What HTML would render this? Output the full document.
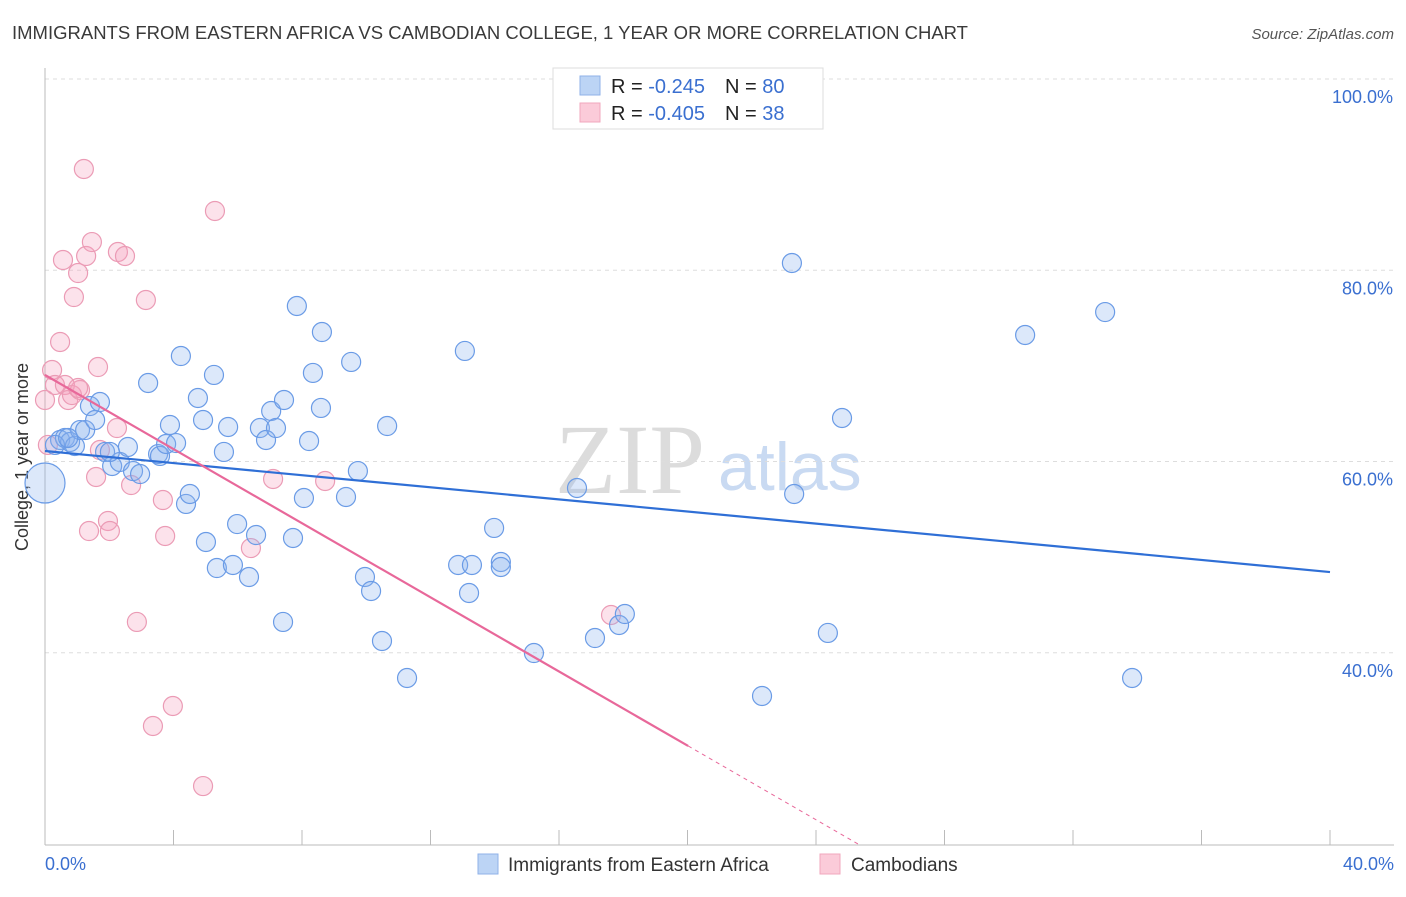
<!DOCTYPE html>
<html><head><meta charset="utf-8"><style>
body{margin:0;background:#fff;}
svg text{font-family:"Liberation Sans",sans-serif;}
</style></head><body>
<svg id="chart" width="1406" height="892" viewBox="0 0 1406 892" xmlns="http://www.w3.org/2000/svg">
<text x="12" y="39" font-size="18.5" fill="#3a3a3a">IMMIGRANTS FROM EASTERN AFRICA VS CAMBODIAN COLLEGE, 1 YEAR OR MORE CORRELATION CHART</text>
<text x="1394" y="39" font-size="15" fill="#555" text-anchor="end" font-style="italic">Source: ZipAtlas.com</text>
<g>
<text x="555" y="493" font-size="100" fill="#dcdcdc" style="font-family:'Liberation Serif',serif">ZIP</text>
<text x="718" y="490" font-size="68" fill="#c9daf2">atlas</text>
</g>
<g id="grid"></g>
<line x1="45" y1="68" x2="45" y2="845" stroke="#bbb" stroke-width="1"/>
<line x1="45" y1="845" x2="1394" y2="845" stroke="#bbb" stroke-width="1"/>
<text transform="translate(28,457) rotate(-90)" font-size="18" fill="#333" text-anchor="middle">College, 1 year or more</text>
<text x="45" y="870" font-size="18" fill="#3a6fd0">0.0%</text>
<text x="1394" y="870" font-size="18" fill="#3a6fd0" text-anchor="end">40.0%</text>
<g id="marks"></g>
<g>
<rect x="553" y="68" width="270" height="61" fill="#fff" stroke="#ddd"/>
<rect x="580" y="76" width="20" height="19" fill="#bcd4f5" stroke="#8fb2e8"/>
<rect x="580" y="103" width="20" height="19" fill="#fbcbd9" stroke="#f0a7bd"/>
<text x="611" y="93" font-size="20" fill="#222">R = <tspan fill="#3a6fd0">-0.245</tspan><tspan dx="20">N = </tspan><tspan fill="#3a6fd0">80</tspan></text>
<text x="611" y="120" font-size="20" fill="#222">R = <tspan fill="#3a6fd0">-0.405</tspan><tspan dx="20">N = </tspan><tspan fill="#3a6fd0"> 38</tspan></text>
</g>
<g>
<rect x="478" y="854" width="20" height="20" fill="#bcd4f5" stroke="#8fb2e8"/>
<text x="508" y="871" font-size="19" fill="#333">Immigrants from Eastern Africa</text>
</g>
<g>
<rect x="820" y="854" width="20" height="20" fill="#fbcbd9" stroke="#f0a7bd"/>
<text x="851" y="871" font-size="19" fill="#333">Cambodians</text>
</g>
</svg>
<script>
const yTicks=[100,80,60,40];
const yTickLabels=["100.0%","80.0%","60.0%","40.0%"];
const xTicks=[0,4,8,12,16,20,24,28,32,36,40];
const blueX=[0,0.47,0.62,0.78,0.93,1.09,1.25,1.40,1.56,1.71,1.87,2.09,2.33,2.58,2.74,2.96,3.21,3.52,3.58,3.77,3.89,4.08,4.23,4.39,4.51,4.76,4.92,5.01,5.26,5.35,5.57,5.70,5.85,5.98,6.35,6.57,6.69,6.88,7.04,7.19,7.44,7.41,7.72,7.84,8.06,8.22,8.34,8.59,8.62,9.37,9.53,9.74,9.96,10.15,10.49,10.65,11.27,12.86,13.07,13.20,13.29,13.98,14.19,14.19,15.22,16.56,17.12,17.87,18.05,22.32,23.25,23.32,24.37,24.81,30.51,33.0,33.84,0.31,0.72,2.02];
const blueY=[57.75,62.25,62.46,62.04,61.62,63.29,63.29,65.8,64.34,66.22,61.0,59.53,59.95,61.52,59.0,58.69,68.21,60.78,60.58,61.83,63.82,61.93,71.03,55.56,56.6,66.64,64.34,51.58,69.05,48.86,61.0,63.61,49.18,53.46,47.92,52.31,63.5,62.25,65.28,63.5,66.43,43.22,52.0,76.26,56.18,62.14,69.26,65.6,73.54,56.29,70.41,59.0,47.92,46.46,41.23,63.71,37.36,49.18,71.56,46.25,49.18,53.05,49.49,48.97,39.97,57.23,41.54,42.9,44.05,35.48,80.76,56.6,42.07,64.55,73.23,75.63,37.36,61.73,62.46,61.0];
const pinkX=[0,0.09,0.22,0.31,0.47,0.56,0.62,0.72,0.84,0.90,1.03,1.09,1.21,1.28,1.46,1.59,1.65,1.71,1.96,2.02,1.37,2.24,2.27,2.49,2.68,2.86,3.14,3.36,3.67,3.74,3.98,4.92,5.29,6.41,7.10,8.72,17.62,1.03];
const pinkY=[66.43,61.73,69.57,68.0,72.5,81.07,68.0,66.43,66.95,77.2,79.71,67.48,90.59,81.49,82.95,58.38,69.88,61.2,53.78,52.73,52.73,63.5,81.91,81.49,57.54,43.22,76.89,32.34,55.97,52.21,34.43,26.06,86.2,50.95,58.17,57.96,43.95,67.69];
const blueTrend=[61.1,48.44];
const pinkTrend=[69.05,-1.938];
const NS="http://www.w3.org/2000/svg";
const sx=v=>45+v*32.125;
const sy=v=>79+(100-v)*9.5625;
function mk(tag,attrs,parent){const e=document.createElementNS(NS,tag);for(const k in attrs)e.setAttribute(k,attrs[k]);parent.appendChild(e);return e;}
const grid=document.getElementById('grid');
yTicks.forEach((t,i)=>{
 const l=mk('line',{x1:45,x2:1394,y1:sy(t),y2:sy(t),stroke:'#ddd','stroke-dasharray':'4,4'},grid);
 
 
 const tx=mk('text',{x:1393,y:sy(t)+24,'font-size':18,fill:'#3a6fd0','text-anchor':'end'},grid);
 tx.textContent=yTickLabels[i];
 
 
});
xTicks.forEach(t=>{
 const l=mk('line',{x1:sx(t),x2:sx(t),y1:830,y2:845,stroke:'#bbb'},grid);
 
 
});
const marks=document.getElementById('marks');
pinkX.forEach((x,i)=>{
 const c=mk('circle',{cx:sx(x),cy:sy(pinkY[i]),r:9.5,fill:'rgba(244,160,188,0.3)',stroke:'#eb9bb5','stroke-width':1.2},marks);
 
 
});
blueX.forEach((x,i)=>{
 const c=mk('circle',{cx:sx(x),cy:sy(blueY[i]),r:i===0?20:9.5,fill:'rgba(140,180,240,0.3)',stroke:'#6a9be6','stroke-width':1.2},marks);
 
 
});
const bt=mk('line',{x1:sx(0),y1:sy(blueTrend[0]),x2:sx(40),y2:sy(blueTrend[1]),stroke:'#2f6fd6','stroke-width':2.2},marks);


const pEnd=20.02, pDash=(pinkTrend[0]-20)/-pinkTrend[1];
const pt=mk('line',{x1:sx(0),y1:sy(pinkTrend[0]),x2:sx(pEnd),y2:sy(pinkTrend[0]+pinkTrend[1]*pEnd),stroke:'#e8689a','stroke-width':2.2},marks);


const pd=mk('line',{x1:sx(pEnd),y1:sy(pinkTrend[0]+pinkTrend[1]*pEnd),x2:sx(pDash),y2:sy(20),stroke:'#e8689a','stroke-width':1,'stroke-dasharray':'4,4'},marks);


</script>
</body></html>
